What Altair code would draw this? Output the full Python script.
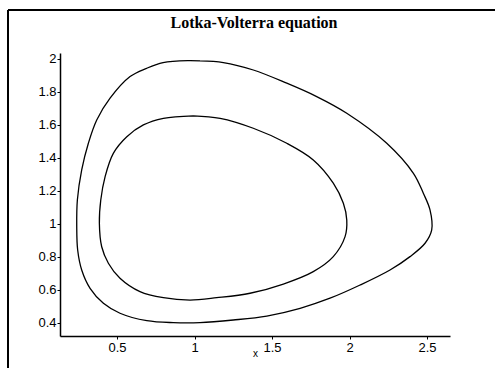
import altair as alt
import pandas as pd

# Two closed predator-prey orbits (prey x, predator y)
outer_x = [1.035, 0.958, 0.797, 0.69, 0.584, 0.455, 0.369, 0.315, 0.272, 0.244,
           0.24, 0.246, 0.272, 0.326, 0.412, 0.519, 0.692, 0.863, 1.035, 1.25,
           1.466, 1.681, 1.874, 2.068, 2.261, 2.39, 2.487, 2.53, 2.519, 2.476,
           2.412, 2.24, 1.982, 1.788, 1.595, 1.379, 1.186, 1.035]
outer_y = [1.988, 1.99, 1.978, 1.943, 1.893, 1.762, 1.63, 1.489, 1.327, 1.145,
           0.984, 0.842, 0.721, 0.61, 0.519, 0.459, 0.414, 0.402, 0.402, 0.418,
           0.442, 0.489, 0.55, 0.63, 0.721, 0.802, 0.883, 0.964, 1.085, 1.186,
           1.307, 1.489, 1.671, 1.772, 1.853, 1.933, 1.978, 1.988]

inner_x = [0.992, 0.799, 0.67, 0.563, 0.476, 0.423, 0.395, 0.386, 0.401, 0.444,
           0.519, 0.648, 0.799, 0.971, 1.143, 1.358, 1.573, 1.766, 1.895, 1.971,
           1.982, 1.96, 1.895, 1.766, 1.595, 1.379, 1.165, 0.992]
inner_y = [1.655, 1.64, 1.6, 1.529, 1.428, 1.287, 1.145, 1.004, 0.862, 0.762,
           0.671, 0.59, 0.553, 0.539, 0.553, 0.58, 0.636, 0.711, 0.802, 0.923,
           1.024, 1.125, 1.247, 1.388, 1.489, 1.58, 1.64, 1.655]

x_ticks = [0.5, 1, 1.5, 2, 2.5]
y_ticks = [0.4, 0.6, 0.8, 1, 1.2, 1.4, 1.6, 1.8, 2]
x_domain = [0.132, 2.648]
y_domain = [0.321, 2.036]
title_text = "Lotka-Volterra equation"

rows = []
for name, xs, ys in (("outer", outer_x, outer_y), ("inner", inner_x, inner_y)):
    for i, (a, b) in enumerate(zip(xs, ys)):
        rows.append({"orbit": name, "step": i, "x": a, "y": b})
df = pd.DataFrame(rows)

W, H = 390, 283
PAD_L, PAD_T = 60, 53

label_font = "Liberation Sans"

x_enc = alt.X(
    "x:Q",
    scale=alt.Scale(domain=x_domain, nice=False, zero=False),
    axis=alt.Axis(values=x_ticks, format="~g", title="x", grid=False,
                  tickSize=3, labelPadding=2, labelFont=label_font,
                  labelFontSize=13, labelColor="black", domainColor="black",
                  tickColor="black", domainWidth=1.5, titleFont=label_font,
                  titleFontSize=10, titleFontWeight="normal", titleColor="black",
                  titleY=20, titleBaseline="alphabetic"),
)
y_enc = alt.Y(
    "y:Q",
    scale=alt.Scale(domain=y_domain, nice=False, zero=False),
    axis=alt.Axis(values=y_ticks, format="~g", title=None, grid=False,
                  tickSize=3, labelPadding=1, labelFont=label_font,
                  labelFontSize=13, labelColor="black", domainColor="black",
                  tickColor="black", domainWidth=1.5),
)

orbits = alt.Chart(df).mark_line(
    color="black", strokeWidth=1.3, interpolate="catmull-rom"
).encode(x=x_enc, y=y_enc, detail="orbit:N", order="step:Q")

one = pd.DataFrame({"k": [0]})

# Partial outer frame: left edge and top edge
frame_left = alt.Chart(one).mark_rule(color="black", strokeWidth=2).encode(
    x=alt.value(8 - PAD_L), y=alt.value(10 - PAD_T), y2=alt.value(368 - PAD_T)
)
frame_top = alt.Chart(one).mark_rule(color="black", strokeWidth=2).encode(
    x=alt.value(8 - PAD_L), x2=alt.value(495 - PAD_L), y=alt.value(10 - PAD_T)
)

title = alt.Chart(one).mark_text(
    text=title_text, font="Liberation Serif", fontSize=16, fontWeight="bold",
    color="black", align="center", baseline="alphabetic",
).encode(x=alt.value(254 - PAD_L), y=alt.value(28 - PAD_T))

chart = alt.layer(orbits, frame_left, frame_top, title).properties(
    width=W,
    height=H,
    background="white",
    autosize=alt.AutoSizeParams(type="none"),
    padding={"left": PAD_L, "top": PAD_T, "right": 495 - PAD_L - W, "bottom": 368 - PAD_T - H},
).configure_view(strokeWidth=0)

chart.save("out.html", embed_options={"renderer": "svg", "actions": False})
